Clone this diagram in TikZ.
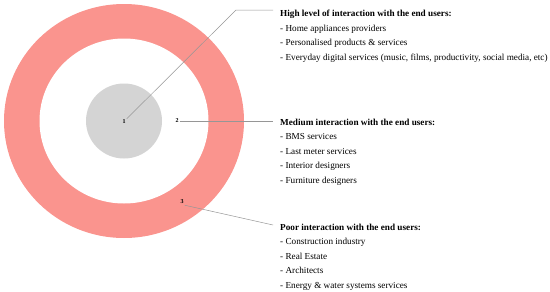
\documentclass[tikz,border=0pt]{standalone}
\usepackage{fontspec}
\setmainfont{Liberation Serif}
\definecolor{ringpink}{RGB}{250,148,142}
\definecolor{coregray}{RGB}{212,212,212}
\definecolor{leadgray}{RGB}{150,150,150}
\begin{document}
\begin{tikzpicture}[x=1pt,y=-1pt,
  numlabel/.style={font=\fontsize{6}{7}\selectfont\bfseries, inner sep=1pt},
  leader/.style={draw=leadgray, line width=0.5pt},
  block/.style={anchor=north west, align=left, inner sep=0pt,
    font=\fontsize{9.2}{14.5}\selectfont}]
\useasboundingbox (0,0) rectangle (550,292);
\fill[ringpink] (124,121) ellipse [x radius=120, y radius=117];
\fill[white] (124,121) ellipse [x radius=84.5, y radius=82.5];
\fill[coregray] (124,121) ellipse [x radius=38, y radius=37.5];

\node[numlabel] (n1) at (124,122) {1};
\node[numlabel] (n2) at (177,121) {2};
\node[numlabel] (n3) at (182,202) {3};

\coordinate (k1) at (236,10);
\coordinate (e1) at (273,10);
\coordinate (e2) at (273,121);
\coordinate (e3) at (273,225);

\draw[leader] (n1.north east) -- (k1) -- (e1);
\draw[leader] (n2.east) -- (e2);
\draw[leader] (n3.south east) -- (e3);

\node[block] (t1) at (280,9.9) {\textbf{High level of interaction with the end users:}\\
- Home appliances providers\\
- Personalised products \& services\\
- Everyday digital services (music, films, productivity, social media, etc)};

\node[block] (t2) at (280,118.9) {\textbf{Medium interaction with the end users:}\\
- BMS services\\
- Last meter services\\
- Interior designers\\
- Furniture designers};

\node[block] (t3) at (280,223.9) {\textbf{Poor interaction with the end users:}\\
- Construction industry\\
- Real Estate\\
- Architects\\
- Energy \& water systems services};
\end{tikzpicture}
\end{document}
